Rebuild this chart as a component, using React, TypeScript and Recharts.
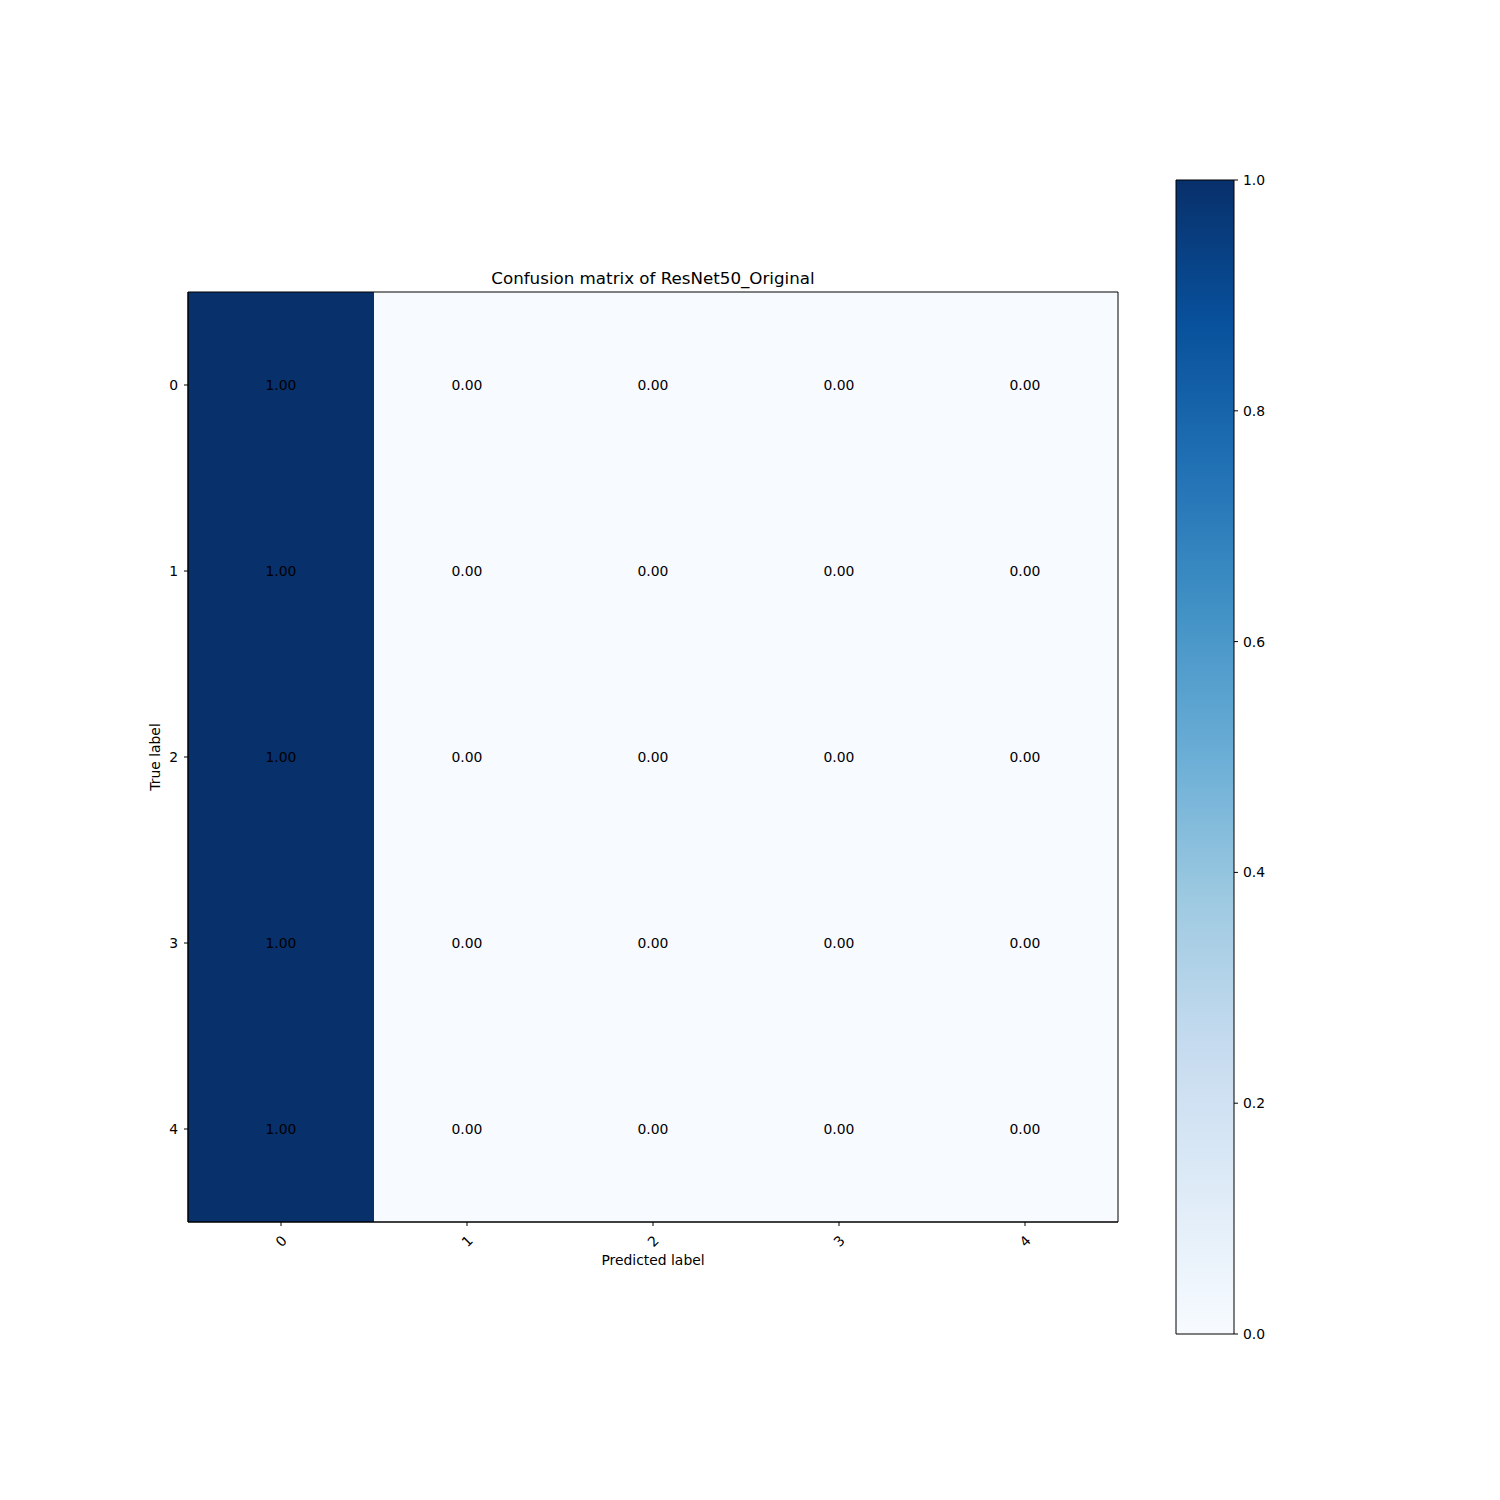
import { ComposedChart, XAxis, YAxis, ReferenceArea, Label } from "recharts";

const classLabels = ["0", "1", "2", "3", "4"];
const matrixRows = [
  [1.0, 0.0, 0.0, 0.0, 0.0],
  [1.0, 0.0, 0.0, 0.0, 0.0],
  [1.0, 0.0, 0.0, 0.0, 0.0],
  [1.0, 0.0, 0.0, 0.0, 0.0],
  [1.0, 0.0, 0.0, 0.0, 0.0],
];
const colorbarTicks = [0, 0.2, 0.4, 0.6, 0.8, 1.0];
const chartTitle = "Confusion matrix of ResNet50_Original";

// matplotlib "Blues"
const BLUES = ["#f7fbff", "#deebf7", "#c6dbef", "#9ecae1", "#6baed6", "#4292c6", "#2171b5", "#08519c", "#08306b"];

function hexToRgb(h: string) {
  const n = parseInt(h.slice(1), 16);
  return [(n >> 16) & 255, (n >> 8) & 255, n & 255];
}

function blues(v: number) {
  const t = Math.max(0, Math.min(1, v)) * (BLUES.length - 1);
  const i = Math.min(Math.floor(t), BLUES.length - 2);
  const f = t - i;
  const a = hexToRgb(BLUES[i]);
  const b = hexToRgb(BLUES[i + 1]);
  const c = a.map((x, k) => Math.round(x + (b[k] - x) * f));
  return `rgb(${c[0]},${c[1]},${c[2]})`;
}

const FONT = "DejaVu Sans, sans-serif";
const FS = 13.9;
const idx = classLabels.map((_, i) => i);

const XTick = (props: any) => {
  const { x, y, payload } = props;
  return (
    <text
      x={x}
      y={y + 13}
      transform={`rotate(-45 ${x} ${y + 13})`}
      textAnchor="middle"
      dominantBaseline="central"
      fontSize={FS}
      fontFamily={FONT}
      fill="#000"
    >
      {classLabels[payload.value]}
    </text>
  );
};

export default function App() {
  return (
    <div style={{ position: "absolute", left: 0, top: 0, width: 1500, height: 1500, background: "#fff" }}>
      <div style={{ position: "absolute", left: 0, top: 0 }}>
        <ComposedChart
          width={1500}
          height={1500}
          margin={{ top: 292, right: 382, bottom: 248, left: 148 }}
        >
          <XAxis
            type="number"
            dataKey="x"
            domain={[-0.5, 4.5]}
            ticks={idx}
            allowDataOverflow
            height={30}
            tick={<XTick />}
            tickLine={{ stroke: "#000" }}
            tickSize={4}
            axisLine={{ stroke: "#000" }}
            interval={0}
          >
            <Label
              value="Predicted label"
              position="insideBottom"
              offset={-13}
              style={{ fontSize: FS, fontFamily: FONT, fill: "#000" }}
            />
          </XAxis>
          <YAxis
            type="number"
            dataKey="y"
            domain={[-0.5, 4.5]}
            reversed
            ticks={idx}
            allowDataOverflow
            width={40}
            tickFormatter={(v: number) => classLabels[v]}
            tick={{ fontSize: FS, fontFamily: FONT, fill: "#000" }}
            tickLine={{ stroke: "#000" }}
            tickSize={4}
            tickMargin={6}
            axisLine={{ stroke: "#000" }}
            interval={0}
          >
            <Label
              value="True label"
              angle={-90}
              position="insideLeft"
              offset={7}
              style={{ fontSize: FS, fontFamily: FONT, fill: "#000", textAnchor: "middle" }}
            />
          </YAxis>
          {matrixRows.flatMap((row, r) =>
            row.map((v, c) => (
              <ReferenceArea
                key={`${r}-${c}`}
                x1={c - 0.5}
                x2={c + 0.5}
                y1={r - 0.5}
                y2={r + 0.5}
                fill={blues(v)}
                fillOpacity={1}
                stroke="none"
                ifOverflow="visible"
                label={{
                  value: v.toFixed(2),
                  position: "center",
                  fill: "#000",
                  fontSize: FS,
                  fontFamily: FONT,
                }}
              />
            ))
          )}
          <ReferenceArea
            x1={-0.5}
            x2={4.5}
            y1={-0.5}
            y2={4.5}
            fill="none"
            stroke="#000"
            strokeWidth={1}
            ifOverflow="visible"
          />
        </ComposedChart>
        <div
          style={{
            position: "absolute",
            left: 0,
            top: 268,
            width: 1306,
            textAlign: "center",
            fontFamily: FONT,
            fontSize: 16.7,
            color: "#000",
            lineHeight: "20px",
          }}
        >
          {chartTitle}
        </div>
      </div>
      <div style={{ position: "absolute", left: 0, top: 0 }}>
        <ComposedChart width={1500} height={1500} margin={{ top: 180, right: 226, bottom: 166, left: 1176 }}>
          <defs>
            <linearGradient id="bluesGrad" x1="0" y1="1" x2="0" y2="0">
              {BLUES.map((c, i) => (
                <stop key={c} offset={`${(i / (BLUES.length - 1)) * 100}%`} stopColor={c} />
              ))}
            </linearGradient>
          </defs>
          <XAxis type="number" dataKey="x" domain={[0, 1]} allowDataOverflow hide />
          <YAxis
            orientation="right"
            type="number"
            dataKey="y"
            domain={[0, 1]}
            allowDataOverflow
            ticks={colorbarTicks}
            width={40}
            tickFormatter={(v: number) => v.toFixed(1)}
            tick={{ fontSize: FS, fontFamily: FONT, fill: "#000", textAnchor: "start" }}
            tickLine={{ stroke: "#000" }}
            tickSize={4}
            tickMargin={5}
            axisLine={false}
            interval={0}
          />
          <ReferenceArea
            x1={0}
            x2={1}
            y1={0}
            y2={1}
            fill="url(#bluesGrad)"
            fillOpacity={1}
            stroke="#000"
            strokeWidth={1}
            ifOverflow="visible"
          />
        </ComposedChart>
      </div>
    </div>
  );
}
